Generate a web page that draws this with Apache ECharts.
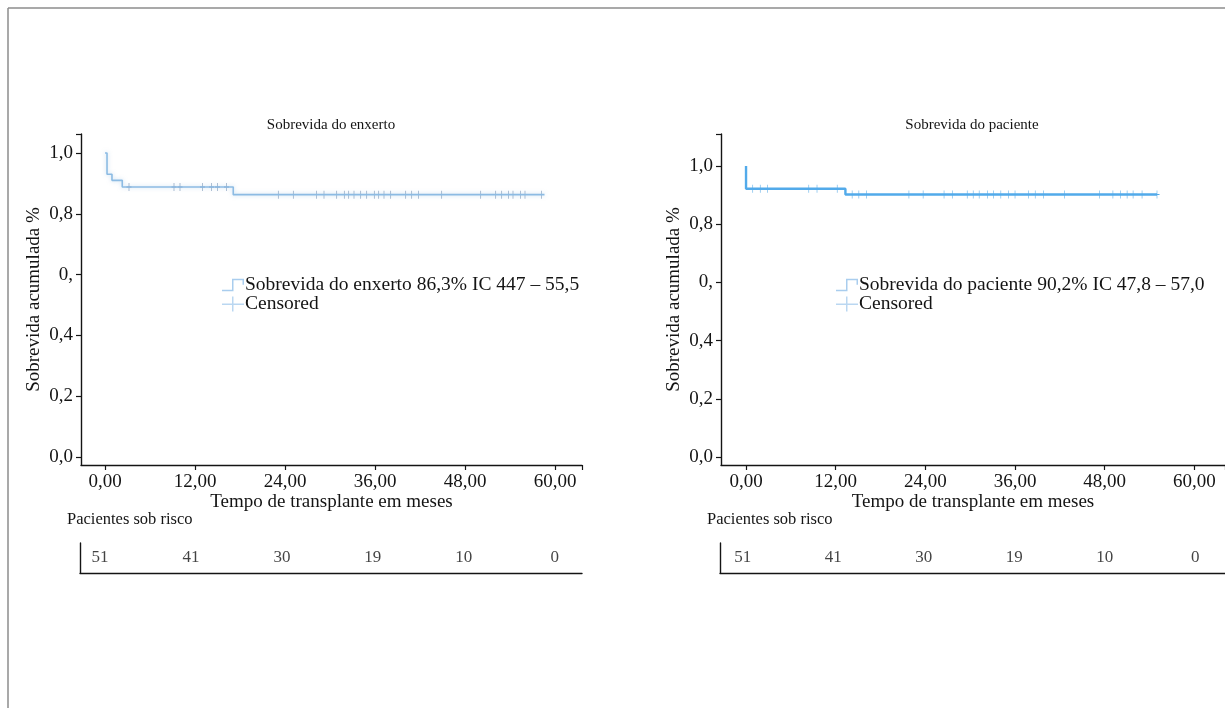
<!DOCTYPE html>
<html>
<head>
<meta charset="utf-8">
<script src="https://cdn.jsdelivr.net/npm/echarts@6/dist/echarts.min.js"></script>
<style>
  body { margin: 0; background: #fff; }
  #chart { width: 1225px; height: 708px; }
</style>
</head>
<body>
<div id="chart"></div>
<script>
// eixos
const months = [0, 12, 24, 36, 48, 60];
const monthLabels = ['0,00', '12,00', '24,00', '36,00', '48,00', '60,00'];
const survTicks = [0, 0.2, 0.4, 0.6, 0.8, 1.0];
const survLabels = ['0,0', '0,2', '0,4', '0,', '0,8', '1,0'];

// curva de Kaplan-Meier: [mes, sobrevida]
const graftSteps = [[0, 1], [0.27, 0.93], [0.93, 0.91], [2.3, 0.888], [17.1, 0.863], [58.6, 0.863]];
const graftCensored = [3.2, 9.2, 10.0, 13.0, 14.2, 15.0, 16.2, 23.1, 25.1, 28.2, 29.2, 30.9, 31.9, 32.5,
  33.2, 34.1, 34.9, 35.9, 36.5, 37.2, 38.1, 40.1, 40.9, 41.8, 44.9, 50.1, 52.1, 52.9, 53.8, 54.4, 55.4, 56.0, 58.2];
const patientSteps = [[0, 1], [0, 0.922], [13.3, 0.902], [55.0, 0.902]];
const patientCensored = [0.9, 1.9, 2.9, 8.4, 9.5, 12.2, 14.2, 15.1, 16.1, 21.8, 23.7, 26.5, 27.6, 29.6, 30.4,
  31.2, 32.3, 33.1, 34.1, 35.1, 36.0, 37.8, 38.7, 39.8, 42.6, 47.3, 49.1, 50.1, 51.0, 51.8, 53.0, 55.0];

// pacientes sob risco
const riskCounts = [51, 41, 30, 19, 10, 0];

const graftName = 'Sobrevida do enxerto 86,3% IC 447 – 55,5';
const patientName = 'Sobrevida do paciente 90,2% IC 47,8 – 57,0';

const serif = '"Liberation Serif", "DejaVu Serif", serif';
const ink = '#141414';
const stepIcon = 'path://M0,13h10v-11h12v6h-1.5v-4.5h-9v11h-11.5z';
const plusIcon = 'path://M0,7h10v-7h1.5v7h10.5v1.5h-10.5v6.5h-1.5v-6.5h-10z';
const censorMark = 'path://M0,4h4v-4h1v4h4v1h-4v4h-1v-4h-4z';

function survAt(steps, t) {
  let v = steps[0][1];
  steps.forEach(s => { if (s[0] <= t) v = s[1]; });
  return v;
}

function xAxisCfg(gridIndex, min, max) {
  return {
    type: 'value', gridIndex: gridIndex, min: min, max: max,
    name: 'Tempo de transplante em meses', nameLocation: 'middle', nameGap: 25,
    nameTextStyle: { fontFamily: serif, fontSize: 19, color: ink },
    axisLine: { onZero: false, lineStyle: { color: ink, width: 1.4 } },
    axisTick: { customValues: months.concat([max]), length: 5, lineStyle: { color: ink, width: 1.2 } },
    axisLabel: {
      customValues: months, margin: 8, fontFamily: serif, fontSize: 19, color: ink,
      formatter: v => monthLabels[Math.round(v / 12)]
    },
    splitLine: { show: false }
  };
}

function yAxisCfg(gridIndex, min, max) {
  return {
    type: 'value', gridIndex: gridIndex, min: min, max: max,
    name: 'Sobrevida acumulada %', nameLocation: 'middle', nameGap: 37,
    nameTextStyle: { fontFamily: serif, fontSize: 19, color: ink },
    axisLine: { onZero: false, lineStyle: { color: ink, width: 1.4 } },
    axisTick: { customValues: survTicks.concat([max]), length: 5, lineStyle: { color: ink, width: 1.2 } },
    axisLabel: {
      customValues: survTicks, margin: 8, fontFamily: serif, fontSize: 19, color: ink,
      formatter: v => survLabels[Math.round(v * 5)]
    },
    splitLine: { show: false }
  };
}

function riskX(gridIndex, min, max) {
  return {
    type: 'value', gridIndex: gridIndex, min: min, max: max,
    axisLine: { onZero: false, lineStyle: { color: ink, width: 1.4 } },
    axisTick: { show: false }, axisLabel: { show: false }, splitLine: { show: false }
  };
}
function riskY(gridIndex) {
  return {
    type: 'value', gridIndex: gridIndex, min: 0, max: 1,
    axisLine: { show: true, onZero: false, lineStyle: { color: ink, width: 1.4 } },
    axisTick: { show: false }, axisLabel: { show: false }, splitLine: { show: false }
  };
}

function riskSeries(idx) {
  return {
    type: 'scatter', xAxisIndex: idx, yAxisIndex: idx, symbolSize: 0, silent: true,
    data: riskCounts.map((n, i) => [i, 0.5, n]),
    label: {
      show: true, position: 'inside', fontFamily: serif, fontSize: 17, color: ink,
      formatter: p => String(p.data[2])
    }
  };
}

function legendCfg(left, name) {
  return {
    orient: 'vertical', left: left, top: 275, padding: 0, itemGap: -1, itemWidth: 22, itemHeight: 15,
    selectedMode: false,
    textStyle: { fontFamily: serif, fontSize: 19.5, color: ink, padding: [0, 0, 0, -4] },
    data: [{ name: name, icon: stepIcon, itemStyle: { color: '#a9cdee' } },
           { name: 'Censored', icon: plusIcon, itemStyle: { color: '#a9cdee' } }]
  };
}

const titleText = { fontFamily: serif, fontSize: 15, fontWeight: 'normal', color: ink };
const riskText = { fontFamily: serif, fontSize: 16.5, fontWeight: 'normal', color: ink };

const chart = echarts.init(document.getElementById('chart'));
chart.setOption({
  backgroundColor: '#fff',
  animation: false,
  title: [
    { text: 'Sobrevida do enxerto', left: 331, top: 118, padding: 0, textAlign: 'center', textStyle: titleText },
    { text: 'Sobrevida do paciente', left: 972, top: 118, padding: 0, textAlign: 'center', textStyle: titleText },
    { text: 'Pacientes sob risco', left: 67, top: 511, padding: 0, textStyle: riskText },
    { text: 'Pacientes sob risco', left: 707, top: 511, padding: 0, textStyle: riskText }
  ],
  legend: [legendCfg(222, graftName), legendCfg(836, patientName)],
  grid: [
    { left: 81, right: 643, top: 134, bottom: 243 },
    { left: 721, right: 0, top: 134, bottom: 243 },
    { left: 80, width: 502, top: 543, height: 30 },
    { left: 720, width: 505, top: 543, height: 30 }
  ],
  xAxis: [xAxisCfg(0, -3.2, 63.6), xAxisCfg(1, -3.35, 64.1), riskX(2, -0.22, 5.3), riskX(3, -0.25, 5.33)],
  yAxis: [yAxisCfg(0, -0.026, 1.0625), yAxisCfg(1, -0.0275, 1.11), riskY(2), riskY(3)],
  graphic: [
    { type: 'line', shape: { x1: 8, y1: 8, x2: 1225, y2: 8 }, style: { stroke: '#8c8c8c', lineWidth: 1.5 } },
    { type: 'line', shape: { x1: 8, y1: 8, x2: 8, y2: 708 }, style: { stroke: '#8c8c8c', lineWidth: 1.5 } }
  ],
  series: [
    { name: graftName, type: 'line', step: 'end', xAxisIndex: 0, yAxisIndex: 0, showSymbol: false,
      data: graftSteps, lineStyle: { color: '#8cbbe3', width: 1.6, shadowBlur: 4, shadowColor: 'rgba(140,185,225,0.5)' },
      itemStyle: { color: '#8cbbe3' } },
    { name: 'Censored', type: 'scatter', xAxisIndex: 0, yAxisIndex: 0, symbol: censorMark, symbolSize: [5, 8],
      data: graftCensored.map(t => [t, survAt(graftSteps, t)]), itemStyle: { color: '#4f729c' } },
    { name: patientName, type: 'line', step: 'end', xAxisIndex: 1, yAxisIndex: 1, showSymbol: false,
      data: patientSteps, lineStyle: { color: '#52aaea', width: 2.4 }, itemStyle: { color: '#52aaea' } },
    { name: 'Censored', type: 'scatter', xAxisIndex: 1, yAxisIndex: 1, symbol: censorMark, symbolSize: [5, 8],
      data: patientCensored.map(t => [t, survAt(patientSteps, t)]), itemStyle: { color: '#2a94e0' } },
    riskSeries(2),
    riskSeries(3)
  ]
});
</script>
</body>
</html>
